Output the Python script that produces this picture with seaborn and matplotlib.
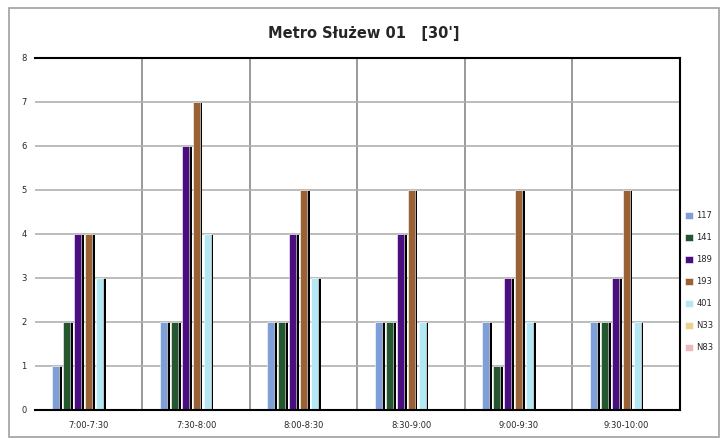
import seaborn as sns
import pandas as pd
import matplotlib.pyplot as plt
import matplotlib.patheffects as pe
from matplotlib.patches import Rectangle

periods = ['7:00-7:30', '7:30-8:00', '8:00-8:30', '8:30-9:00', '9:00-9:30', '9:30-10:00']
lines = ['117', '141', '189', '193', '401', 'N33', 'N83']
v117 = [1, 2, 2, 2, 2, 2]
v141 = [2, 2, 2, 2, 1, 2]
v189 = [4, 6, 4, 4, 3, 3]
v193 = [4, 7, 5, 5, 5, 5]
v401 = [3, 4, 3, 2, 2, 2]
vN33 = [0, 0, 0, 0, 0, 0]
vN83 = [0, 0, 0, 0, 0, 0]

colors = ['#7f9fd8', '#245630', '#4a0e80', '#9a6234', '#b2e8f4', '#ecd08f', '#ebb9bd']

rows = []
for name, vals in zip(lines, [v117, v141, v189, v193, v401, vN33, vN83]):
    for p, v in zip(periods, vals):
        rows.append({'period': p, 'line': name, 'count': v})
df = pd.DataFrame(rows)

sns.set_style('white')
plt.rcParams['font.family'] = ['DejaVu Sans']

fig = plt.figure(figsize=(7.28, 4.45), dpi=100)
ax = fig.add_axes([0.048, 0.079, 0.886, 0.791])

sns.barplot(data=df, x='period', y='count', hue='line', hue_order=lines,
            palette=colors, saturation=1, width=0.71, gap=0.36, ax=ax, legend=True,
            edgecolor='white', linewidth=0.4)

# black drop shadow on the right of each bar
shadow = [pe.SimplePatchShadow(offset=(2, -0.5), shadow_rgbFace='black', alpha=1.0), pe.Normal()]
for patch in ax.patches:
    if patch.get_height() > 0:
        patch.set_path_effects(shadow)

ax.set_ylim(0, 8)
ax.set_xlim(-0.5, 5.5)
ax.set_yticks(range(0, 9))
ax.set_xticks([i + 0.5 for i in range(5)], minor=True)
ax.grid(True, axis='y', color='#b0b0b0', linewidth=1.2)
ax.grid(True, axis='x', which='minor', color='#888888', linewidth=1.2)
ax.set_axisbelow(True)
ax.tick_params(axis='both', which='both', length=0, labelsize=6, pad=8)
ax.tick_params(axis='y', pad=6)
ax.set_xlabel('')
ax.set_ylabel('')
for s in ['top', 'right', 'bottom']:
    ax.spines[s].set_color('black')
    ax.spines[s].set_linewidth(1.5)
ax.spines['left'].set_visible(False)

handles, labels = ax.get_legend_handles_labels()
ax.get_legend().remove()
fig.legend(handles, labels, loc='center left', bbox_to_anchor=(0.937, 0.367),
           frameon=False, fontsize=6, handlelength=0.9, handleheight=0.9,
           labelspacing=1.55, handletextpad=0.4, borderaxespad=0)

fig.text(0.5, 0.925, "Metro Służew 01   [30']", ha='center', va='center',
         fontsize=10.5, fontweight='bold')

fig.patches.append(Rectangle((0.012, 0.018), 0.976, 0.964, transform=fig.transFigure,
                             fill=False, edgecolor='#a0a0a0', linewidth=1.2))

plt.savefig('out.png', dpi=100)
